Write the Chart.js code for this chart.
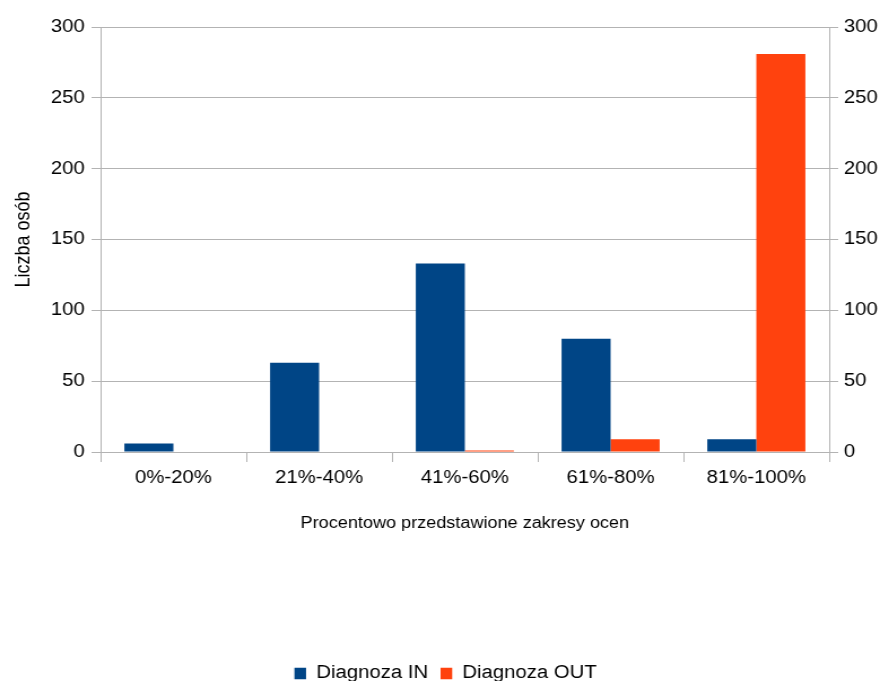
<!DOCTYPE html>
<html>
<head>
<meta charset="utf-8">
<script src="https://cdn.jsdelivr.net/npm/chart.js@4/dist/chart.umd.min.js"></script>
<style>
  html, body { margin: 0; padding: 0; background: #fff; overflow: hidden; }
  #wrap { width: 779px; height: 681px; transform: scaleX(1.12965); transform-origin: 0 0; }
  canvas { display: block; }
</style>
</head>
<body>
<div id="wrap"><canvas id="c" width="779" height="681"></canvas></div>
<script>
const categories = ['0%-20%', '21%-40%', '41%-60%', '61%-80%', '81%-100%'];
const diagnozaIn = [6, 63, 133, 80, 9];
const diagnozaOut = [0, 0, 1, 9, 281];
const seriesNames = ['Diagnoza IN', 'Diagnoza OUT'];
const yTitle = 'Liczba osób';
const xTitle = 'Procentowo przedstawione zakresy ocen';

const GRID = '#b3b3b3';
Chart.defaults.font.family = "'Liberation Sans', Arial, sans-serif";
Chart.defaults.color = '#000';

new Chart(document.getElementById('c'), {
  type: 'bar',
  data: {
    labels: categories,
    datasets: [
      { label: seriesNames[0], data: diagnozaIn, backgroundColor: '#004586', yAxisID: 'y' },
      { label: seriesNames[1], data: diagnozaOut, backgroundColor: '#ff420e', yAxisID: 'y' }
    ]
  },
  options: {
    responsive: false,
    animation: false,
    events: [],
    datasets: { bar: { categoryPercentage: 0.673, barPercentage: 1.0 } },
    layout: { padding: { top: 27, left: 10, right: 0, bottom: -11.5 } },
    plugins: {
      tooltip: { enabled: false },
      legend: {
        position: 'bottom',
        labels: { font: { size: 18 }, boxWidth: 10.3, boxHeight: 11.7, padding: 11, color: '#000' }
      }
    },
    scales: {
      x: {
        grid: { offset: true, drawOnChartArea: false, drawTicks: true, tickLength: 10, color: GRID },
        border: { display: true, color: GRID },
        ticks: { font: { size: 18 }, padding: 5, maxRotation: 0, autoSkip: false },
        title: { display: true, text: xTitle, font: { size: 16 }, padding: { top: 25, bottom: 120.4 } },
        afterFit: (s) => { s.height = 201.5; }
      },
      y: {
        position: 'left',
        min: 0, max: 300,
        ticks: { stepSize: 50, font: { size: 18 }, padding: 6 },
        grid: { color: GRID, tickLength: 8 },
        border: { display: true, color: GRID },
        title: { display: true, text: yTitle, font: { size: 18 }, padding: { top: 0, bottom: 0 } },
        afterFit: (s) => { s.width = 79; }
      },
      y2: {
        position: 'right',
        min: 0, max: 300,
        ticks: { stepSize: 50, font: { size: 18 }, padding: 5 },
        grid: { drawOnChartArea: false, color: GRID, tickLength: 8 },
        border: { display: true, color: GRID },
        afterFit: (s) => { s.width = 45; }
      }
    }
  }
});
</script>
</body>
</html>
